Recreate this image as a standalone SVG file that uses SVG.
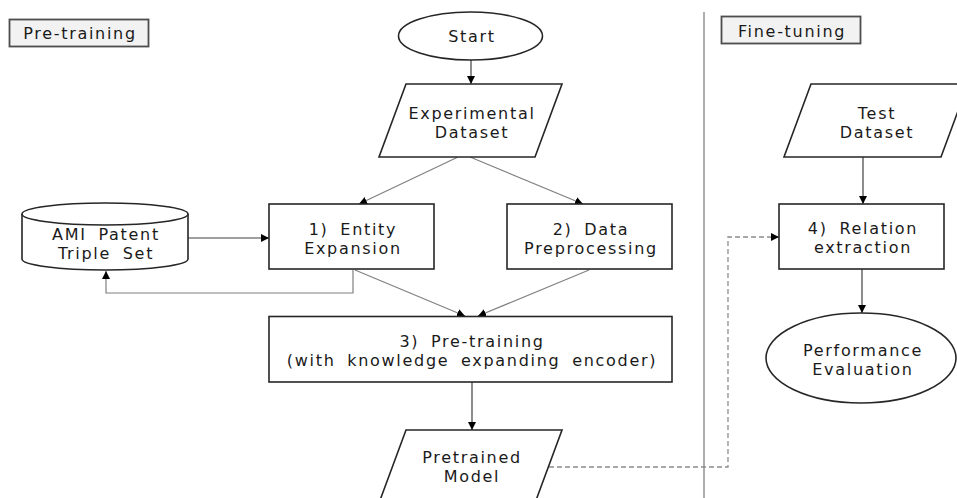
<svg xmlns="http://www.w3.org/2000/svg" width="957" height="498" viewBox="0 0 957 498">
<style>
.sh{fill:#fff;stroke:#262626;stroke-width:1.6}
.lbl{fill:#f2f2f2;stroke:#4d4d4d;stroke-width:1.8}
.t{font-family:"DejaVu Sans","Noto Sans",sans-serif;font-size:16px;letter-spacing:1.7px;word-spacing:5px;fill:#1a1a1a;text-anchor:middle}
.c{fill:none;stroke:#808080;stroke-width:1.2}
.k{stroke:#404040}
.d{fill:none;stroke:#8c8c8c;stroke-width:1.3;stroke-dasharray:5 3}
</style>
<defs>
<marker id="ah" markerUnits="userSpaceOnUse" markerWidth="10" markerHeight="10" refX="8" refY="4" orient="auto">
<path d="M0,0 L8,4 L0,8 z" fill="#000"/>
</marker>
</defs>
<line x1="704" y1="12" x2="704" y2="498" stroke="#999" stroke-width="1.6"/>
<g id="label-pretraining">
<rect class="lbl" x="9.5" y="19.5" width="139" height="27"/>
<text class="t" x="80" y="39">Pre-training</text>
</g>
<g id="label-finetuning">
<rect class="lbl" x="721.5" y="16.5" width="139" height="27"/>
<text class="t" x="792" y="37">Fine-tuning</text>
</g>
<g id="connectors">
<line class="c k" x1="471" y1="60" x2="471" y2="84" marker-end="url(#ah)"/>
<line class="c" x1="458" y1="157" x2="359" y2="204" marker-end="url(#ah)"/>
<line class="c" x1="470" y1="157" x2="583" y2="204" marker-end="url(#ah)"/>
<line class="c k" x1="188" y1="238" x2="269" y2="238" marker-end="url(#ah)"/>
<polyline class="c" points="353,270 353,293 106,293 106,271" marker-end="url(#ah)"/>
<line class="c" x1="355" y1="270" x2="465" y2="316" marker-end="url(#ah)"/>
<line class="c" x1="589" y1="270" x2="478" y2="316" marker-end="url(#ah)"/>
<line class="c k" x1="472" y1="382" x2="472" y2="430" marker-end="url(#ah)"/>
<line class="c k" x1="863" y1="157" x2="863" y2="204" marker-end="url(#ah)"/>
<line class="c k" x1="862" y1="269" x2="862" y2="313" marker-end="url(#ah)"/>
<polyline class="d" points="549,467 728,467 728,237 779,237" marker-end="url(#ah)"/>
</g>
<g id="start">
<ellipse class="sh" cx="470.5" cy="36" rx="72" ry="24"/>
<text class="t" x="472" y="42">Start</text>
</g>
<g id="experimental-dataset">
<polygon class="sh" points="406,84 562,84 535,157 379,157"/>
<text class="t"><tspan x="472" y="118.5">Experimental</tspan><tspan x="472" y="137.5">Dataset</tspan></text>
</g>
<g id="ami-patent">
<path class="sh" d="M22,214 L22,259 A83,11 0 0 0 188,259 L188,214"/>
<ellipse class="sh" cx="105" cy="214" rx="83" ry="11"/>
<text class="t"><tspan x="106" y="239.5">AMI Patent</tspan><tspan x="106" y="258.5">Triple Set</tspan></text>
</g>
<g id="entity-expansion">
<rect class="sh" x="269" y="204" width="165" height="65"/>
<text class="t"><tspan x="353" y="234.5">1) Entity</tspan><tspan x="353" y="253.5">Expansion</tspan></text>
</g>
<g id="data-preprocessing">
<rect class="sh" x="507" y="204" width="165" height="65"/>
<text class="t"><tspan x="591" y="234.5">2) Data</tspan><tspan x="591" y="253.5">Preprocessing</tspan></text>
</g>
<g id="pre-training">
<rect class="sh" x="269" y="316.5" width="403" height="65.5"/>
<text class="t"><tspan x="472" y="347">3) Pre-training</tspan><tspan x="472" y="366">(with knowledge expanding encoder)</tspan></text>
</g>
<g id="pretrained-model">
<polygon class="sh" points="406,430 562,430 535,503 379,503"/>
<text class="t"><tspan x="472" y="462.5">Pretrained</tspan><tspan x="472" y="481.5">Model</tspan></text>
</g>
<g id="test-dataset">
<polygon class="sh" points="811,84 968,84 941,157 784,157"/>
<text class="t"><tspan x="877" y="118.5">Test</tspan><tspan x="877" y="137.5">Dataset</tspan></text>
</g>
<g id="relation-extraction">
<rect class="sh" x="779" y="204" width="165" height="65"/>
<text class="t"><tspan x="863" y="233.5">4) Relation</tspan><tspan x="863" y="252.5">extraction</tspan></text>
</g>
<g id="performance-evaluation">
<ellipse class="sh" cx="861" cy="358" rx="95" ry="45"/>
<text class="t"><tspan x="863" y="355.5">Performance</tspan><tspan x="863" y="374.5">Evaluation</tspan></text>
</g>
</svg>
